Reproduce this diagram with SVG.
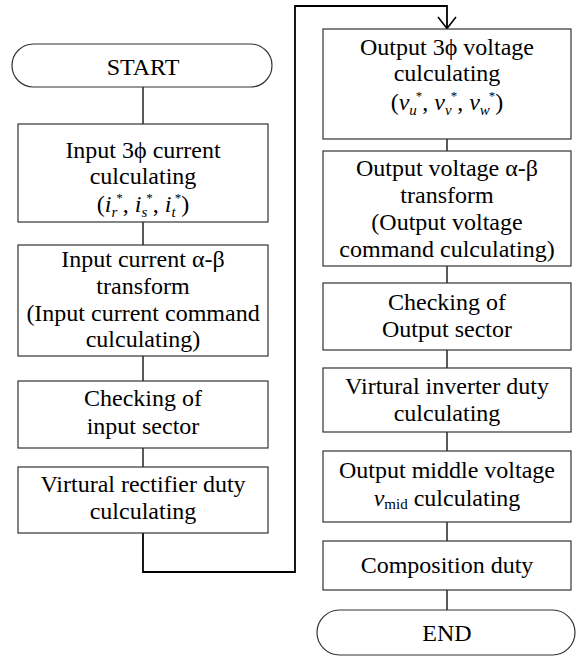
<svg xmlns="http://www.w3.org/2000/svg" width="576" height="657" viewBox="0 0 576 657" font-family="'Liberation Serif', 'Times New Roman', serif">
<defs>
<style>
.box{fill:#fff;stroke:#333;stroke-width:1.2}
.t{font-family:'Liberation Serif','Times New Roman',serif;font-size:24px;fill:#000;text-anchor:middle}
.it{font-style:italic}
.sm{font-size:15px}
.st{font-size:13px}
.c{fill:none;stroke:#000;stroke-width:1.3}
.loop{fill:none;stroke:#000;stroke-width:1.8}
.ah{fill:none;stroke:#000;stroke-width:1.6}
</style>
</defs>
<rect width="576" height="657" fill="#fff"/>
<g id="connectors">
<line class="c" x1="143" y1="87" x2="143" y2="124"/>
<line class="c" x1="143" y1="222" x2="143" y2="245"/>
<line class="c" x1="143" y1="356" x2="143" y2="381"/>
<line class="c" x1="143" y1="448" x2="143" y2="467"/>
<path class="loop" d="M143,533 V572 H295 V6 H447 V28.5"/>
<path class="ah" d="M438,17 L447,28.5 L456,17"/>
<line class="c" x1="447" y1="139" x2="447" y2="151"/>
<line class="c" x1="447" y1="266" x2="447" y2="283"/>
<line class="c" x1="447" y1="350" x2="447" y2="368"/>
<line class="c" x1="447" y1="432" x2="447" y2="451"/>
<line class="c" x1="447" y1="522" x2="447" y2="541"/>
<line class="c" x1="447" y1="590" x2="447" y2="610"/>
</g>
<g id="start">
<rect class="box" x="12" y="44" width="260" height="43" rx="21.5"/>
<text class="t" x="143" y="75">START</text>
</g>
<g id="in3phi">
<rect class="box" x="18" y="124" width="250" height="98"/>
<text class="t" x="143" y="158">Input 3ϕ current</text>
<text class="t" x="143" y="184">culculating</text>
<text class="t" x="143" y="212">(<tspan class="it">i</tspan><tspan class="it sm" dy="5">r</tspan><tspan class="st" dx="-1" dy="-15">*</tspan><tspan dy="10">, </tspan><tspan class="it">i</tspan><tspan class="it sm" dy="5">s</tspan><tspan class="st" dx="-1" dy="-15">*</tspan><tspan dy="10">, </tspan><tspan class="it">i</tspan><tspan class="it sm" dy="5">t</tspan><tspan class="st" dx="-1" dy="-15">*</tspan><tspan dy="10">)</tspan></text>
</g>
<g id="inab">
<rect class="box" x="18" y="245" width="250" height="111"/>
<text class="t" x="143" y="267">Input current α-β</text>
<text class="t" x="143" y="294">transform</text>
<text class="t" x="143" y="321">(Input current command</text>
<text class="t" x="143" y="347">culculating)</text>
</g>
<g id="insector">
<rect class="box" x="18" y="381" width="250" height="67"/>
<text class="t" x="143" y="406">Checking of</text>
<text class="t" x="143" y="434">input sector</text>
</g>
<g id="rectduty">
<rect class="box" x="18" y="467" width="250" height="66"/>
<text class="t" x="143" y="492">Virtural rectifier duty</text>
<text class="t" x="143" y="519">culculating</text>
</g>
<g id="out3phi">
<rect class="box" x="323" y="29" width="248" height="110"/>
<text class="t" x="447" y="55">Output 3ϕ voltage</text>
<text class="t" x="447" y="81">culculating</text>
<text class="t" x="447" y="110">(<tspan class="it">v</tspan><tspan class="it sm" dy="5">u</tspan><tspan class="st" dx="-1" dy="-15">*</tspan><tspan dy="10">, </tspan><tspan class="it">v</tspan><tspan class="it sm" dy="5">v</tspan><tspan class="st" dx="-1" dy="-15">*</tspan><tspan dy="10">, </tspan><tspan class="it">v</tspan><tspan class="it sm" dy="5">w</tspan><tspan class="st" dx="-1" dy="-15">*</tspan><tspan dy="10">)</tspan></text>
</g>
<g id="outab">
<rect class="box" x="323" y="151" width="248" height="115"/>
<text class="t" x="447" y="176">Output voltage α-β</text>
<text class="t" x="447" y="203">transform</text>
<text class="t" x="447" y="230">(Output voltage</text>
<text class="t" x="447" y="257">command culculating)</text>
</g>
<g id="outsector">
<rect class="box" x="323" y="283" width="248" height="67"/>
<text class="t" x="447" y="310">Checking of</text>
<text class="t" x="447" y="337">Output sector</text>
</g>
<g id="invduty">
<rect class="box" x="323" y="368" width="248" height="64"/>
<text class="t" x="447" y="394">Virtural inverter duty</text>
<text class="t" x="447" y="421">culculating</text>
</g>
<g id="vmid">
<rect class="box" x="323" y="451" width="248" height="71"/>
<text class="t" x="447" y="478">Output middle voltage</text>
<text class="t" x="447" y="506"><tspan class="it">v</tspan><tspan class="sm" dy="3">mid</tspan><tspan dy="-3"> culculating</tspan></text>
</g>
<g id="compduty">
<rect class="box" x="323" y="541" width="248" height="49"/>
<text class="t" x="447" y="573">Composition duty</text>
</g>
<g id="end">
<rect class="box" x="317" y="610" width="258" height="45" rx="22.5"/>
<text class="t" x="447" y="641">END</text>
</g>
</svg>
